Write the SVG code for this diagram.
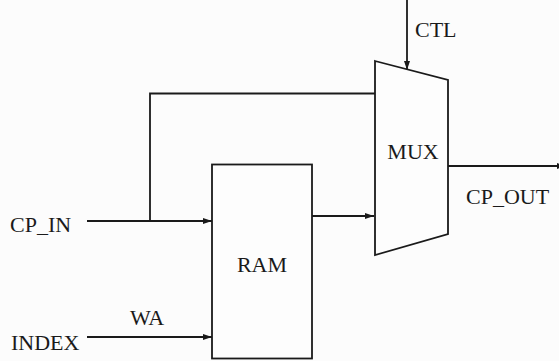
<svg xmlns="http://www.w3.org/2000/svg" width="559" height="361" viewBox="0 0 559 361">
<style>
.ln{fill:none;stroke:#1a1a1a;stroke-width:1.8}
.sh{fill:#fdfdfd;stroke:#1a1a1a;stroke-width:1.8}
.t{font-size:22px;fill:#1a1a1a}
</style>
<defs>
<marker id="ah" markerWidth="10" markerHeight="8" refX="9" refY="4" orient="auto" markerUnits="userSpaceOnUse">
<path d="M0,1 L9,4 L0,7 Z" fill="#1a1a1a"/>
</marker>
</defs>
<rect width="559" height="361" fill="#fcfcfc"/>
<g id="connectors">
<path class="ln" d="M87,221 H212" marker-end="url(#ah)"/>
<path class="ln" d="M150,221 V93.5 H375"/>
<path class="ln" d="M87,337 H212" marker-end="url(#ah)"/>
<path class="ln" d="M312,216 H374" marker-end="url(#ah)"/>
<path class="ln" d="M407,0 V70" marker-end="url(#ah)"/>
<path class="ln" d="M448,166 H566" marker-end="url(#ah)"/>
</g>
<g font-family="'Liberation Serif', 'DejaVu Serif', serif">
<g id="ram">
<rect class="sh" x="212" y="164.5" width="100" height="194"/>
<text class="t" x="262" y="272" text-anchor="middle">RAM</text>
</g>
<g id="mux">
<path class="sh" d="M375,61 L448,80 V234 L375,255 Z"/>
<text class="t" x="413" y="159" text-anchor="middle">MUX</text>
</g>
<g id="labels">
<text class="t" x="10" y="231.5">CP_IN</text>
<text class="t" x="11" y="350">INDEX</text>
<text class="t" x="130" y="325">WA</text>
<text class="t" x="415" y="37">CTL</text>
<text class="t" x="466" y="204">CP_OUT</text>
</g>
</g>
</svg>
